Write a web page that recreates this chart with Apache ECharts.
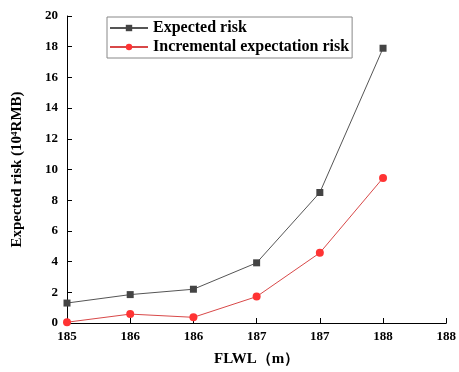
<!DOCTYPE html>
<html>
<head>
<meta charset="utf-8">
<script src="https://cdn.jsdelivr.net/npm/echarts@6/dist/echarts.min.js"></script>
<style>
html,body{margin:0;padding:0;background:#fff;}
#c{width:459px;height:372px;}
</style>
</head>
<body>
<div id="c"></div>
<script>
var xLabels = ['185', '186', '186', '187', '187', '188', '188'];
var yTicks = [0, 2, 4, 6, 8, 10, 12, 14, 16, 18, 20];
var expectedRisk = [1.3, 1.85, 2.2, 3.92, 8.5, 17.9];
var incrementalRisk = [0.05, 0.58, 0.37, 1.72, 4.57, 9.45];

var serif = '"Liberation Serif", "Times New Roman", serif';
var chart = echarts.init(document.getElementById('c'));
chart.setOption({
  animation: false,
  backgroundColor: '#fff',
  grid: { left: 67, right: 9, top: 16, bottom: 45, containLabel: false },
  legend: {
    orient: 'vertical',
    left: 107,
    top: 17,
    borderColor: '#888',
    borderWidth: 1,
    padding: [3, 3, 3, 2],
    itemGap: 3,
    itemWidth: 38,
    itemHeight: 8,
    textStyle: { fontFamily: serif, fontWeight: 'bold', fontSize: 16, color: '#000' },
    data: ['Expected risk', 'Incremental expectation risk']
  },
  xAxis: {
    type: 'category',
    boundaryGap: false,
    data: xLabels,
    name: 'FLWL（m）',
    nameLocation: 'middle',
    nameGap: 29,
    nameTextStyle: { fontFamily: serif, fontWeight: 'bold', fontSize: 15, color: '#000' },
    axisLine: { lineStyle: { color: '#000', width: 1 } },
    axisTick: { inside: true, length: 5, alignWithLabel: true, lineStyle: { color: '#000' } },
    axisLabel: { fontFamily: serif, fontWeight: 'bold', fontSize: 13, color: '#000', margin: 7, interval: 0 },
    splitLine: { show: false }
  },
  yAxis: {
    type: 'value',
    min: yTicks[0],
    max: yTicks[yTicks.length - 1],
    interval: yTicks[1] - yTicks[0],
    name: 'Expected risk (10{sup|4}RMB)',
    nameLocation: 'middle',
    nameRotate: 90,
    nameGap: 42,
    nameTextStyle: {
      fontFamily: serif, fontWeight: 'bold', fontSize: 15, color: '#000',
      rich: { sup: { fontFamily: serif, fontWeight: 'bold', fontSize: 9, color: '#000', verticalAlign: 'top', padding: [0, 0, 6, 0] } }
    },
    axisLine: { show: true, lineStyle: { color: '#000', width: 1 } },
    axisTick: { show: true, inside: true, length: 5, lineStyle: { color: '#000' } },
    axisLabel: { fontFamily: serif, fontWeight: 'bold', fontSize: 13, color: '#000', margin: 9 },
    splitLine: { show: false }
  },
  series: [
    {
      name: 'Expected risk',
      type: 'line',
      data: expectedRisk,
      symbol: 'rect',
      symbolSize: 7,
      lineStyle: { color: '#555', width: 1 },
      itemStyle: { color: '#444' }
    },
    {
      name: 'Incremental expectation risk',
      type: 'line',
      data: incrementalRisk,
      symbol: 'circle',
      symbolSize: 8,
      lineStyle: { color: '#d84848', width: 1 },
      itemStyle: { color: '#ff3333' }
    }
  ]
});
</script>
</body>
</html>
